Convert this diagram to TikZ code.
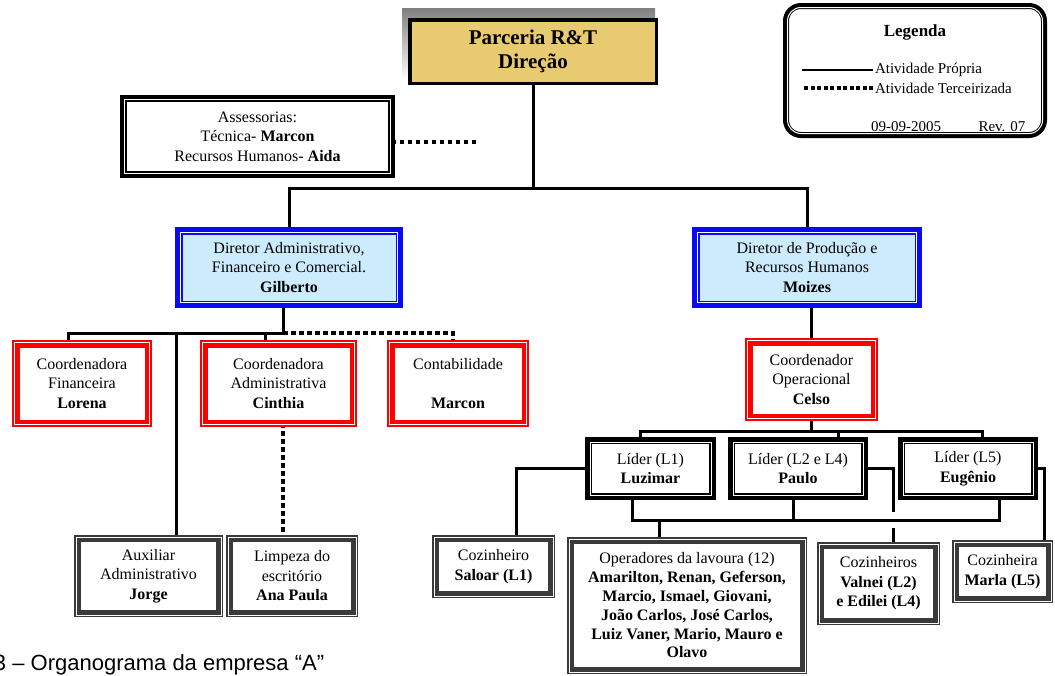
\documentclass[tikz,border=0pt]{standalone}
\usepackage{fontspec}
\setmainfont{Liberation Serif}
\newfontfamily\capfont{Liberation Sans}
\usetikzlibrary{backgrounds}

\definecolor{boxred}{RGB}{255,0,0}
\definecolor{boxblue}{RGB}{10,10,245}
\definecolor{paleblue}{RGB}{204,235,252}
\definecolor{framegray}{RGB}{58,58,58}
\definecolor{gold}{RGB}{232,202,112}
\definecolor{shade}{RGB}{190,190,190}

\newcommand\orgfont{\fontsize{16}{19.5}\selectfont}
% thin white line parallel to a node's border; #2 = outward offset in pt
\newcommand\hair[2]{%
  \pgfmathsetmacro\ho{#2}\pgfmathsetmacro\hn{-(#2)}%
  \draw[white,line width=0.8pt] ([xshift=\hn pt,yshift=\ho pt]#1.north west)
    rectangle ([xshift=\ho pt,yshift=\hn pt]#1.south east);}

\tikzset{
  every node/.style={outer sep=0pt, inner sep=2pt, align=center, font=\orgfont},
  orgframe/.style={draw, fill=white, outer sep=0pt},
  redbox/.style={orgframe, draw=boxred, line width=7.5pt},
  bluebox/.style={orgframe, draw=boxblue, fill=paleblue, line width=7.5pt},
  blackbox/.style={orgframe, draw=black, line width=7pt},
  graybox/.style={orgframe, draw=framegray, line width=7pt},
  topbox/.style={orgframe, draw=black, fill=gold, line width=3.5pt,
    font=\fontsize{21}{23.5}\selectfont\bfseries},
  legbox/.style={orgframe, draw=black, line width=6pt, rounded corners=15pt},
  conn/.style={line width=3pt, black},
  dotconn/.style={line width=4pt, black, dash pattern=on 4.5pt off 3.5pt},
}

\begin{document}
\begin{tikzpicture}[x=1pt,y=-1pt]
\useasboundingbox (0,0) rectangle (1055,675);

% ---------- top of the chart ----------
\node[topbox, minimum width=246.5pt, minimum height=63.5pt] (T) at (533,51.5) {Parceria R\&T\\Direção};

\node[legbox, minimum width=258pt, minimum height=129pt] (LG) at (915,70.5) {};
\node[font=\fontsize{17}{20}\selectfont\bfseries] (lgt) at (915,32) {Legenda};
\node[anchor=west, inner sep=0pt, font=\fontsize{15}{18}\selectfont] (lp) at (875,70) {Atividade Própria};
\node[anchor=west, inner sep=0pt, font=\fontsize{15}{18}\selectfont] (lt) at (875,88) {Atividade Terceirizada};
\node[font=\fontsize{15}{18}\selectfont] (ld) at (906,127) {09-09-2005};
\node[font=\fontsize{15}{18}\selectfont] (lr) at (1002,127) {Rev. 07};

\node[blackbox, minimum width=268pt, minimum height=76pt] (A) at (257.5,136.5)
  {Assessorias:\\Técnica- \textbf{Marcon}\\Recursos Humanos- \textbf{Aida}};

% ---------- directors ----------
\node[bluebox, minimum width=220.5pt, minimum height=73.5pt] (G) at (289,267.5)
  {Diretor Administrativo,\\Financeiro e Comercial.\\\textbf{Gilberto}};
\node[bluebox, minimum width=222.5pt, minimum height=73.5pt] (M) at (807,267.5)
  {Diretor de Produção e\\Recursos Humanos\\\textbf{Moizes}};

% ---------- coordinators ----------
\node[redbox, minimum width=132.5pt, minimum height=79.5pt] (LO) at (82,383.5)
  {Coordenadora\\Financeira\\\textbf{Lorena}};
\node[redbox, minimum width=149.5pt, minimum height=79.5pt] (CI) at (278.5,383.5)
  {Coordenadora\\Administrativa\\\textbf{Cinthia}};
\node[redbox, minimum width=134.5pt, minimum height=79.5pt] (CO) at (458,383.5)
  {Contabilidade\\[19.5pt]\textbf{Marcon}};
\node[redbox, minimum width=125.5pt, minimum height=75.5pt] (CE) at (811.5,379.5)
  {Coordenador\\Operacional\\\textbf{Celso}};

% ---------- administrative staff ----------
\node[graybox, minimum width=142pt, minimum height=75pt] (J) at (148.5,576)
  {Auxiliar\\Administrativo\\\textbf{Jorge}};
\node[graybox, minimum width=125pt, minimum height=75pt] (LP) at (292,576)
  {Limpeza do\\escritório\\\textbf{Ana Paula}};

% ---------- leaders ----------
\node[blackbox, minimum width=124pt, minimum height=56pt] (LU) at (650.5,468.5)
  {Líder (L1)\\\textbf{Luzimar}};
\node[blackbox, minimum width=133pt, minimum height=56pt] (PA) at (798,468.5)
  {Líder (L2 e L4)\\\textbf{Paulo}};
\node[blackbox, minimum width=133pt, minimum height=56pt] (EU) at (968,468.5)
  {Líder (L5)\\\textbf{Eugênio}};

% ---------- field staff ----------
\node[graybox, minimum width=116pt, minimum height=56pt] (SA) at (493.5,566.5)
  {Cozinheiro\\\textbf{Saloar (L1)}};
\node[graybox, minimum width=233pt, minimum height=130pt, font=\fontsize{16}{18.8}\selectfont] (OP) at (687,605.5)
  {Operadores da lavoura (12)\\\textbf{Amarilton, Renan, Geferson,}\\\textbf{Marcio, Ismael, Giovani,}\\\textbf{João Carlos, José Carlos,}\\\textbf{Luiz Vaner, Mario, Mauro e}\\\textbf{Olavo}};
\node[graybox, minimum width=116pt, minimum height=76pt] (CZ) at (878.5,583.5)
  {Cozinheiros\\\textbf{Valnei (L2)}\\\textbf{e Edilei (L4)}};
\node[graybox, minimum width=94pt, minimum height=56pt] (MA) at (1002.5,571.5)
  {Cozinheira\\\textbf{Marla (L5)}};

% inner white lines of the framed boxes
\foreach \n in {LO,CI,CO,CE} {\hair{\n}{1.25}}
\foreach \n in {G,M} {\hair{\n}{-1.75}}
\foreach \n in {LU,PA,EU} {\hair{\n}{-1.5}}
\hair{A}{-1}
\foreach \n in {J,LP,SA,OP,CZ,MA} {\hair{\n}{1.5}}
\draw[white, line width=1pt, rounded corners=13.5pt]
  ([xshift=1.5pt,yshift=-1.5pt]LG.north west) rectangle ([xshift=-1.5pt,yshift=1.5pt]LG.south east);

% legend samples
\draw[conn, line width=2.5pt] ([xshift=-2pt]lp.west) -- ++(-71,0);
\draw[dotconn, dash pattern=on 4pt off 2.5pt] ([xshift=-2pt]lt.west) -- ++(-71,0);

% caption
\node[anchor=base west, inner sep=0pt, font=\capfont\fontsize{22}{26}\selectfont] (cap) at (-6,670)
  {3 – Organograma da empresa “A”};

% ---------- connectors ----------
\begin{pgfonlayer}{background}
  \fill[shade] (402,8) rectangle (655,80);

  \coordinate (bus) at (533,188);
  \draw[conn] (T.south) -- (bus);
  \draw[conn] (G.north) |- (bus) -| (M.north);

  \coordinate (aend) at (478,142);
  \draw[dotconn] (A.east |- aend) -- (aend);

  \coordinate (gj) at (283,333);
  \draw[conn] (gj |- G.south) -- (gj);
  \draw[conn] ([xshift=-14pt]LO.north) |- (gj);
  \draw[conn] ([xshift=27.5pt]J.north) -- ([xshift=27.5pt]J.north |- gj);
  \draw[conn] ([xshift=-13.5pt]CI.north) -- ([xshift=-13.5pt]CI.north |- gj);
  \draw[dotconn] (gj) -| ([xshift=-5pt]CO.north);
  \draw[dotconn] ([xshift=4.5pt]CI.south) -- ([xshift=-9pt]LP.north);

  \draw[conn] ([xshift=4pt]M.south) -- ([xshift=4pt]M.south |- CE.north);

  \coordinate (lb) at (812,431);
  \draw[conn] (CE.south) -- (CE.south |- lb);
  \draw[conn] ([xshift=-10.5pt]LU.north) |- (lb) -| ([xshift=14pt]EU.north);
  \draw[conn] ([xshift=40pt]PA.north) -- ([xshift=40pt]PA.north |- lb);

  \draw[conn] (LU.west) -| ([xshift=22.5pt]SA.north);

  \coordinate (ob) at (659,520);
  \draw[conn] ([xshift=-18.5pt]LU.south) |- ([xshift=31pt]EU.south |- ob) -- ([xshift=31pt]EU.south);
  \draw[conn] ([xshift=-5pt]PA.south) -- ([xshift=-5pt]PA.south |- ob);
  \draw[conn] (ob) -- (ob |- OP.north);

  \coordinate (hopA) at (893,512);
  \coordinate (hopB) at (893,528);
  \draw[conn] (PA.east) -| (hopA);
  \draw[conn] (hopB) -- (hopB |- CZ.north);

  \draw[conn] (EU.east) -| ([xshift=41.5pt]MA.north);
\end{pgfonlayer}
\end{tikzpicture}
\end{document}
